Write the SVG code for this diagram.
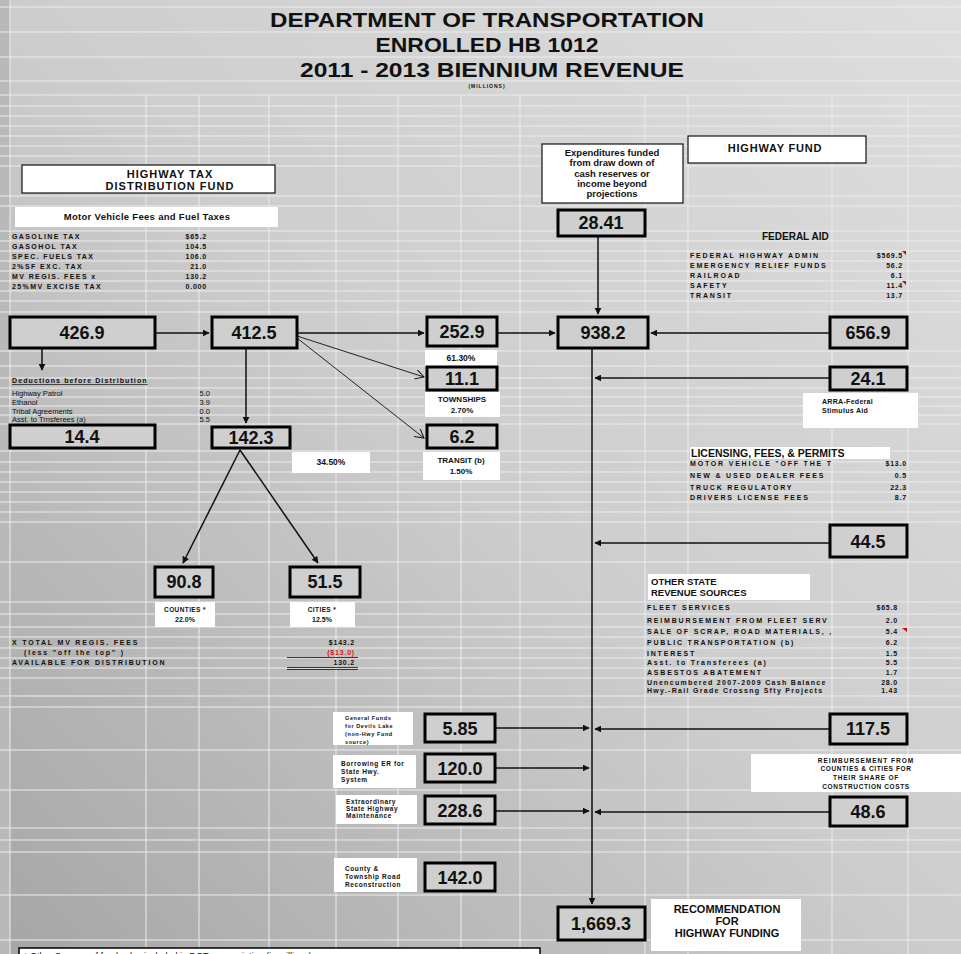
<svg xmlns="http://www.w3.org/2000/svg" width="961" height="954" viewBox="0 0 961 954">
<defs>
<linearGradient id="bg" x1="1" y1="0" x2="0" y2="1">
<stop offset="0" stop-color="#dedede"/>
<stop offset="0.5" stop-color="#cdcdcd"/>
<stop offset="1" stop-color="#a6a6a6"/>
</linearGradient>
<marker id="ah" viewBox="0 0 10 10" refX="9" refY="5" markerWidth="7" markerHeight="7" orient="auto" markerUnits="userSpaceOnUse">
<path d="M0,0 L10,5 L0,10 z" fill="#111"/>
</marker>
<marker id="oh" viewBox="0 0 10 10" refX="9" refY="5" markerWidth="10" markerHeight="10" orient="auto" markerUnits="userSpaceOnUse">
<path d="M0,0 L9,5 L0,10" fill="none" stroke="#111" stroke-width="1"/>
</marker>
<style>
text{font-family:"Liberation Sans",Arial,sans-serif;fill:#111}
.t{font-weight:bold;font-size:21px;text-anchor:middle}
.nb rect{fill:#cfcfcf;stroke:#000;stroke-width:3}
.nb text{font-weight:bold;font-size:18px;text-anchor:middle}
.wb{fill:#fff;stroke:none}
.wbb{fill:#fff;stroke:#111;stroke-width:1.2}
.s{font-size:7px;font-weight:bold;letter-spacing:1.4px}
.sr{font-size:7px;font-weight:bold;text-anchor:end;letter-spacing:0.8px}
.rs{font-size:7px;font-weight:bold;letter-spacing:1.8px}
.n7{font-size:7.5px}
.n7r{font-size:7.5px;text-anchor:end}
.lab{font-size:8px;font-weight:bold;text-anchor:middle}
.lab6{font-size:6.5px;font-weight:bold;letter-spacing:0.6px}
.hd{font-size:11px;font-weight:bold;text-anchor:middle;letter-spacing:1px}
.c{stroke:#111;stroke-width:1.5;fill:none}
.cl{stroke:#222;stroke-width:1;fill:none}
.g{stroke:#ececec;stroke-width:1}
</style>
</defs>
<rect width="961" height="954" fill="url(#bg)"/>
<rect x="0" y="0" width="10" height="954" fill="#b9b9b9"/>
<g id="grid" class="g">
<path d="M10,0V954 M146,95V954 M199,95V954 M269,95V954 M336,95V954 M398,95V954 M461,95V954 M520,95V954 M645,95V954 M688,95V954 M832,95V954 M908,95V954"/>
<path d="M0,7H961 M0,32H961 M0,57H961 M0,81H961 M0,95H961 M0,106H961 M0,116H961 M0,126H961 M0,136H961 M0,146H961 M0,156H961 M0,166H961 M0,196H961 M0,206H961 M0,231H961 M0,241H961 M0,251H961 M0,261H961 M0,271H961 M0,281H961 M0,291H961 M0,301H961 M0,312H961 M0,351H961 M0,366H961 M0,378H961 M0,388H961 M0,397H961 M0,406H961 M0,415H961 M0,424H961 M0,451H961 M0,462H961 M0,472H961 M0,482H961 M0,492H961 M0,502H961 M0,512H961 M0,522H961 M0,562H961 M0,602H961 M0,614H961 M0,627H961 M0,637H961 M0,648H961 M0,658H961 M0,668H961 M0,678H961 M0,696H961 M0,707H961 M0,750H961 M0,790H961 M0,828H961 M0,840H961 M0,852H961 M0,895H961 M0,940H961"/>
</g>
<g id="title">
<text class="t" x="487" y="27" textLength="434" lengthAdjust="spacingAndGlyphs">DEPARTMENT OF TRANSPORTATION</text>
<text class="t" x="487" y="52" textLength="223" lengthAdjust="spacingAndGlyphs">ENROLLED HB 1012</text>
<text class="t" x="492" y="77" textLength="384" lengthAdjust="spacingAndGlyphs">2011 - 2013 BIENNIUM REVENUE</text>
<text x="487" y="88" style="font-size:5px;font-weight:bold;text-anchor:middle;letter-spacing:1px">(MILLIONS)</text>
</g>
<g id="connectors">
<line class="c" x1="155" y1="333" x2="209" y2="333" marker-end="url(#ah)"/>
<line class="c" x1="297" y1="333" x2="424" y2="333" marker-end="url(#ah)"/>
<line class="c" x1="497" y1="333" x2="555" y2="333" marker-end="url(#ah)"/>
<line class="c" x1="830" y1="333" x2="651" y2="333" marker-end="url(#ah)"/>
<line class="c" x1="42" y1="348" x2="42" y2="370" marker-end="url(#ah)"/>
<line class="c" x1="246" y1="348" x2="246" y2="423" marker-end="url(#ah)"/>
<line class="cl" x1="297" y1="336" x2="424" y2="377" marker-end="url(#oh)"/>
<line class="cl" x1="297" y1="338" x2="424" y2="438" marker-end="url(#oh)"/>
<line class="c" x1="240" y1="450" x2="183" y2="563" marker-end="url(#ah)"/>
<line class="c" x1="240" y1="450" x2="318" y2="563" marker-end="url(#ah)"/>
<line class="c" x1="598" y1="236" x2="598" y2="314" marker-end="url(#ah)"/>
<line class="c" x1="592" y1="348" x2="592" y2="904" marker-end="url(#ah)"/>
<line class="c" x1="830" y1="378" x2="595" y2="378" marker-end="url(#ah)"/>
<line class="c" x1="830" y1="543" x2="595" y2="543" marker-end="url(#ah)"/>
<line class="c" x1="830" y1="729" x2="595" y2="729" marker-end="url(#ah)"/>
<line class="c" x1="830" y1="812" x2="595" y2="812" marker-end="url(#ah)"/>
<line class="c" x1="495" y1="728" x2="589" y2="728" marker-end="url(#ah)"/>
<line class="c" x1="495" y1="768" x2="589" y2="768" marker-end="url(#ah)"/>
<line class="c" x1="495" y1="811" x2="589" y2="811" marker-end="url(#ah)"/>
</g>
<g id="htdf">
<rect class="wbb" x="22" y="165" width="253" height="28"/>
<text class="hd" x="170" y="178">HIGHWAY TAX</text>
<text class="hd" x="170" y="190">DISTRIBUTION  FUND</text>
</g>
<g id="mvfees">
<rect class="wb" x="15" y="207" width="263" height="20"/>
<text x="147" y="220" style="font-size:9.5px;font-weight:bold;text-anchor:middle;letter-spacing:0.3px">Motor Vehicle Fees and Fuel Taxes</text>
<text class="s" x="12" y="239">GASOLINE TAX</text><text class="sr" x="207" y="239">$65.2</text>
<text class="s" x="12" y="249">GASOHOL TAX</text><text class="sr" x="207" y="249">104.5</text>
<text class="s" x="12" y="259">SPEC. FUELS TAX</text><text class="sr" x="207" y="259">106.0</text>
<text class="s" x="12" y="269">2%SF EXC. TAX</text><text class="sr" x="207" y="269">21.0</text>
<text class="s" x="12" y="279">MV REGIS. FEES   x</text><text class="sr" x="207" y="279">130.2</text>
<text class="s" x="12" y="289">25%MV EXCISE TAX</text><text class="sr" x="207" y="289">0.000</text>
</g>
<g id="n4269" class="nb"><rect x="10" y="317" width="145" height="31"/><text x="82" y="339">426.9</text></g>
<g id="n4125" class="nb"><rect x="212" y="317" width="85" height="31"/><text x="254" y="339">412.5</text></g>
<g id="n2529" class="nb"><rect x="427" y="317" width="70" height="29"/><text x="462" y="338">252.9</text></g>
<g id="p6130"><rect class="wb" x="425" y="350" width="72" height="16"/><text class="lab" x="461" y="361" style="font-size:8.5px">61.30%</text></g>
<g id="n9382" class="nb"><rect x="558" y="317" width="90" height="31"/><text x="603" y="339">938.2</text></g>
<g id="n6569" class="nb"><rect x="830" y="317" width="77" height="31"/><text x="868" y="339">656.9</text></g>
<g id="deductions">
<text x="12" y="383" style="font-size:7px;font-weight:bold;text-decoration:underline;letter-spacing:1.1px">Deductions before Distribution</text>
<text class="n7" x="12" y="396">Highway Patrol</text><text class="n7r" x="210" y="396">5.0</text>
<text class="n7" x="12" y="405">Ethanol</text><text class="n7r" x="210" y="405">3.9</text>
<text class="n7" x="12" y="414">Tribal Agreements</text><text class="n7r" x="210" y="414">0.0</text>
<text class="n7" x="12" y="422">Asst. to Trnsferees (a)</text><text class="n7r" x="210" y="422">5.5</text>
</g>
<g id="n144" class="nb"><rect x="10" y="425" width="145" height="23"/><text x="82" y="443">14.4</text></g>
<g id="n1423" class="nb"><rect x="212" y="427" width="78" height="21"/><text x="251" y="444">142.3</text></g>
<g id="p3450"><rect class="wb" x="292" y="452" width="78" height="21"/><text class="lab" x="331" y="465" style="font-size:8.5px">34.50%</text></g>
<g id="n111" class="nb"><rect x="427" y="367" width="70" height="23"/><text x="462" y="385">11.1</text></g>
<g id="townships"><rect class="wb" x="425" y="392" width="75" height="25"/><text class="lab" x="462" y="402">TOWNSHIPS</text><text class="lab" x="462" y="413">2.70%</text></g>
<g id="n62" class="nb"><rect x="427" y="425" width="70" height="23"/><text x="462" y="443">6.2</text></g>
<g id="transit"><rect class="wb" x="423" y="452" width="77" height="28"/><text class="lab" x="461" y="463">TRANSIT (b)</text><text class="lab" x="461" y="474">1.50%</text></g>
<g id="n908" class="nb"><rect x="155" y="567" width="58" height="30"/><text x="184" y="588">90.8</text></g>
<g id="n515" class="nb"><rect x="290" y="567" width="70" height="30"/><text x="325" y="588">51.5</text></g>
<g id="counties"><rect class="wb" x="155" y="602" width="60" height="25"/><text class="lab" x="185" y="612" style="font-size:6.5px;letter-spacing:0.4px">COUNTIES *</text><text class="lab" x="185" y="622" style="font-size:7px">22.0%</text></g>
<g id="cities"><rect class="wb" x="290" y="602" width="65" height="25"/><text class="lab" x="322" y="612" style="font-size:6.5px;letter-spacing:0.4px">CITIES *</text><text class="lab" x="322" y="622" style="font-size:7px">12.5%</text></g>
<g id="mvtotal">
<text class="rs" x="12" y="645">X  TOTAL MV REGIS. FEES</text><text class="sr" x="355" y="645">$143.2</text>
<text class="rs" x="24" y="655">(less "off the top" )</text><text class="sr" x="355" y="655" style="fill:#e01010">($13.0)</text>
<line x1="287" y1="657.5" x2="358" y2="657.5" stroke="#111" stroke-width="0.8"/>
<text class="rs" x="12" y="665">AVAILABLE FOR  DISTRIBUTION</text><text class="sr" x="355" y="665">130.2</text>
<line x1="287" y1="667.5" x2="358" y2="667.5" stroke="#111" stroke-width="0.8"/>
<line x1="287" y1="669.5" x2="358" y2="669.5" stroke="#111" stroke-width="0.8"/>
</g>
<g id="expend">
<rect class="wbb" x="542" y="144" width="141" height="59"/>
<text class="lab" x="612" y="156" style="font-size:9.5px">Expenditures funded</text>
<text class="lab" x="612" y="166" style="font-size:9.5px">from draw down of</text>
<text class="lab" x="612" y="177" style="font-size:9.5px">cash reserves or</text>
<text class="lab" x="612" y="187" style="font-size:9.5px">income beyond</text>
<text class="lab" x="612" y="197" style="font-size:9.5px">projections</text>
</g>
<g id="hwyfund"><rect class="wbb" x="688" y="136" width="178" height="27"/><text class="hd" x="775" y="152" style="letter-spacing:0.8px">HIGHWAY FUND</text></g>
<g id="n2841" class="nb"><rect x="558" y="210" width="87" height="26"/><text x="601" y="229">28.41</text></g>
<g id="fedaid">
<text x="762" y="240" style="font-size:10px;font-weight:bold">FEDERAL AID</text>
<text class="rs" x="690" y="258">FEDERAL HIGHWAY ADMIN</text><text class="sr" x="903" y="258">$569.5</text>
<text class="rs" x="690" y="268">EMERGENCY RELIEF FUNDS</text><text class="sr" x="903" y="268">56.2</text>
<text class="rs" x="690" y="278">RAILROAD</text><text class="sr" x="903" y="278">6.1</text>
<text class="rs" x="690" y="288">SAFETY</text><text class="sr" x="903" y="288">11.4</text>
<text class="rs" x="690" y="298">TRANSIT</text><text class="sr" x="903" y="298">13.7</text>
<path d="M902,251 H906 V255 z M902,281 H906 V285 z" fill="#e00000"/>
</g>
<g id="n241" class="nb"><rect x="830" y="367" width="77" height="23"/><text x="868" y="385">24.1</text></g>
<g id="arra"><rect class="wb" x="803" y="393" width="115" height="35"/><text class="lab6" x="822" y="404" style="letter-spacing:0.3px;font-size:7px">ARRA-Federal</text><text class="lab6" x="822" y="413" style="letter-spacing:0.3px;font-size:7px">Stimulus Aid</text></g>
<g id="licensing">
<rect class="wb" x="690" y="447" width="200" height="12"/>
<text x="691" y="457" style="font-size:10.5px;font-weight:bold">LICENSING, FEES, &amp; PERMITS</text>
<text class="rs" x="690" y="466">MOTOR VEHICLE "OFF THE T</text><text class="sr" x="907" y="466">$13.0</text>
<text class="rs" x="690" y="478">NEW &amp; USED DEALER FEES</text><text class="sr" x="907" y="478">0.5</text>
<text class="rs" x="690" y="490">TRUCK REGULATORY</text><text class="sr" x="907" y="490">22.3</text>
<text class="rs" x="690" y="500">DRIVERS LICENSE FEES</text><text class="sr" x="907" y="500">8.7</text>
</g>
<g id="n445" class="nb"><rect x="830" y="525" width="77" height="32"/><text x="868" y="548">44.5</text></g>
<g id="otherstate">
<rect class="wb" x="648" y="574" width="162" height="26"/>
<text x="651" y="585" style="font-size:9.5px;font-weight:bold">OTHER STATE</text>
<text x="651" y="596" style="font-size:9.5px;font-weight:bold">REVENUE  SOURCES</text>
<text class="rs" x="647" y="610">FLEET SERVICES</text><text class="sr" x="898" y="610">$65.8</text>
<text class="rs" x="647" y="623">REIMBURSEMENT FROM  FLEET SERV</text><text class="sr" x="898" y="623">2.0</text>
<text class="rs" x="647" y="634">SALE OF SCRAP, ROAD MATERIALS, ,</text><text class="sr" x="898" y="634">5.4</text>
<text class="rs" x="647" y="645">PUBLIC TRANSPORTATION (b)</text><text class="sr" x="898" y="645">6.2</text>
<text class="rs" x="647" y="656">INTEREST</text><text class="sr" x="898" y="656">1.5</text>
<text class="rs" x="647" y="665">Asst. to Transferees (a)</text><text class="sr" x="898" y="665">5.5</text>
<text class="rs" x="647" y="675">ASBESTOS ABATEMENT</text><text class="sr" x="898" y="675">1.7</text>
<text class="rs" x="647" y="685" style="letter-spacing:1.3px">Unencumbered 2007-2009 Cash Balance</text><text class="sr" x="898" y="685">28.0</text>
<text class="rs" x="647" y="693" style="letter-spacing:1.3px">Hwy.-Rail Grade Crossng Sfty Projects</text><text class="sr" x="898" y="693">1.43</text>
<path d="M902,628 H907 V632 z" fill="#e00000"/>
</g>
<g id="n1175" class="nb"><rect x="830" y="714" width="77" height="30"/><text x="868" y="735">117.5</text></g>
<g id="devils"><rect class="wb" x="333" y="712" width="80" height="33"/>
<text class="lab6" x="345" y="720" style="font-size:5.5px">General Funds</text>
<text class="lab6" x="345" y="728" style="font-size:5.5px">for Devils Lake</text>
<text class="lab6" x="345" y="736" style="font-size:5.5px">(non-Hwy Fund</text>
<text class="lab6" x="345" y="744" style="font-size:5.5px">source)</text></g>
<g id="n585" class="nb"><rect x="425" y="714" width="70" height="28"/><text x="460" y="735">5.85</text></g>
<g id="borrow"><rect class="wb" x="333" y="755" width="83" height="33"/>
<text class="lab6" x="341" y="766">Borrowing ER for</text>
<text class="lab6" x="341" y="774">State Hwy.</text>
<text class="lab6" x="341" y="782">System</text></g>
<g id="n1200" class="nb"><rect x="425" y="754" width="70" height="28"/><text x="460" y="775">120.0</text></g>
<g id="extra"><rect class="wb" x="336" y="795" width="81" height="29"/>
<text class="lab6" x="346" y="804">Extraordinary</text>
<text class="lab6" x="346" y="811">State Highway</text>
<text class="lab6" x="346" y="818">Maintenance</text></g>
<g id="n2286" class="nb"><rect x="425" y="796" width="70" height="28"/><text x="460" y="817">228.6</text></g>
<g id="n486" class="nb"><rect x="830" y="797" width="77" height="29"/><text x="868" y="818">48.6</text></g>
<g id="reimb"><rect class="wb" x="751" y="754" width="210" height="38"/>
<text class="lab" x="866" y="763" style="font-size:6.5px;letter-spacing:1px">REIMBURSEMENT FROM</text>
<text class="lab" x="866" y="771" style="font-size:6.5px;letter-spacing:0.6px">COUNTIES &amp; CITIES FOR</text>
<text class="lab" x="866" y="780" style="font-size:6.5px;letter-spacing:0.8px">THEIR SHARE OF</text>
<text class="lab" x="866" y="789" style="font-size:6.5px;letter-spacing:0.6px">CONSTRUCTION COSTS</text></g>
<g id="county"><rect class="wb" x="334" y="858" width="83" height="34"/>
<text class="lab6" x="345" y="871">County &amp;</text>
<text class="lab6" x="345" y="879">Township Road</text>
<text class="lab6" x="345" y="887">Reconstruction</text></g>
<g id="n1420" class="nb"><rect x="425" y="863" width="70" height="28"/><text x="460" y="884">142.0</text></g>
<g id="n16693" class="nb"><rect x="558" y="907" width="87" height="33"/><text x="601" y="930">1,669.3</text></g>
<g id="recommend"><rect class="wb" x="651" y="899" width="150" height="52"/>
<text class="lab" x="727" y="913" style="font-size:11px">RECOMMENDATION</text>
<text class="lab" x="727" y="925" style="font-size:11px">FOR</text>
<text class="lab" x="727" y="937" style="font-size:11px">HIGHWAY FUNDING</text></g>
<g id="footnote"><rect x="19" y="948" width="521" height="12" fill="#fff" stroke="#000" stroke-width="1.5"/>
<text x="24" y="959" style="font-size:9px">* Other Sources of funds also included in DOT appropriation (in millions):</text></g>
</svg>
